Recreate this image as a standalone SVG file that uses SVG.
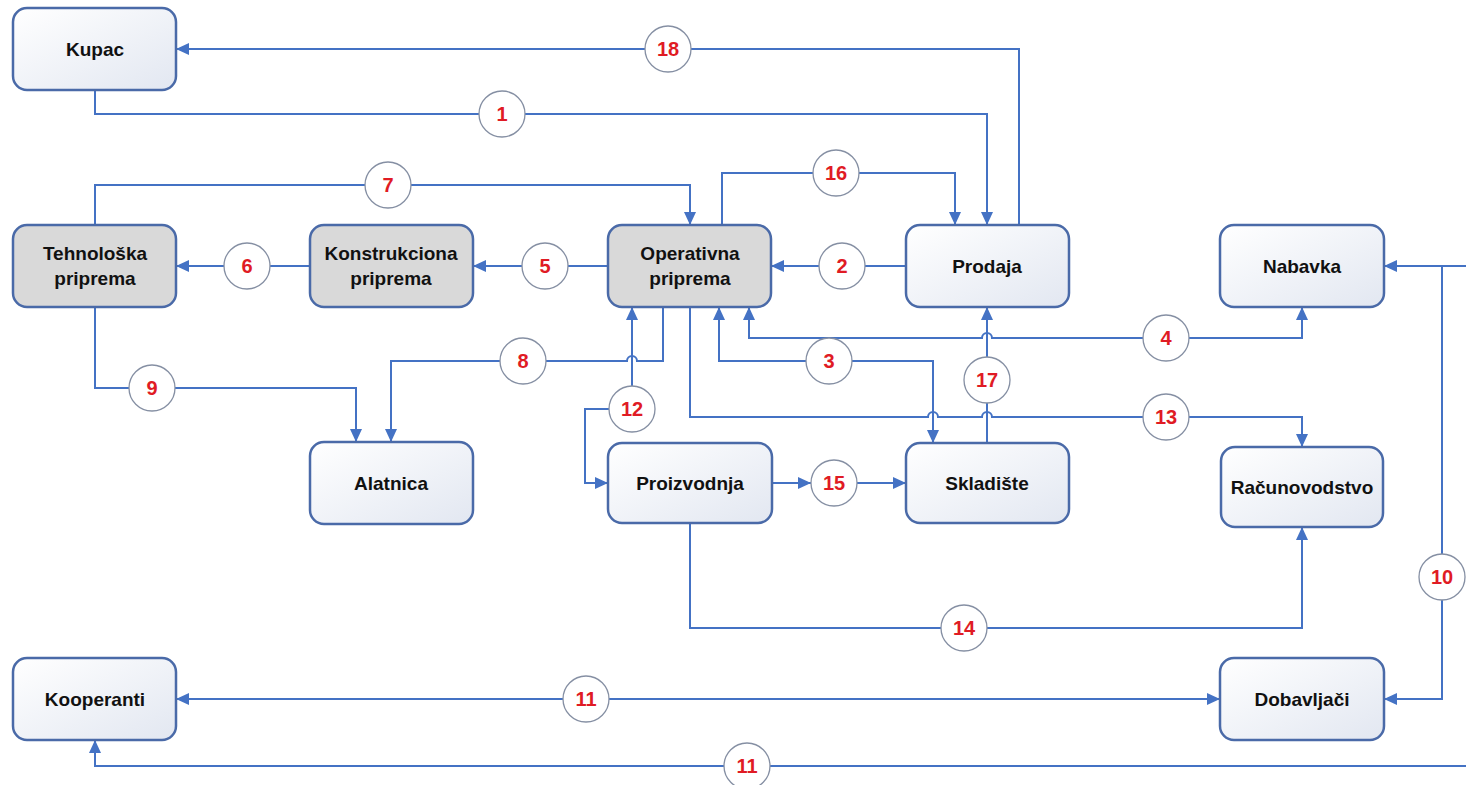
<svg xmlns="http://www.w3.org/2000/svg" width="1466" height="785" viewBox="0 0 1466 785">
<defs>
<linearGradient id="gw" x1="0" y1="0" x2="1" y2="1">
<stop offset="0" stop-color="#ffffff"/>
<stop offset="1" stop-color="#e2e7f1"/>
</linearGradient>
<marker id="ah" markerUnits="userSpaceOnUse" markerWidth="14" markerHeight="12" refX="13" refY="6" orient="auto-start-reverse">
<path d="M0,0 L13,6 L0,12 z" fill="#4472c4"/>
</marker>
<style>
.n{stroke:#4a6aa8;stroke-width:2.5;fill:url(#gw)}
.g{stroke:#4a6aa8;stroke-width:2.5;fill:#d9d9d9}
.t{font-family:"Liberation Sans",Arial,sans-serif;font-weight:bold;font-size:19px;fill:#111;text-anchor:middle}
.c path{fill:none;stroke:#4472c4;stroke-width:2}
.e{marker-end:url(#ah)}
.b{marker-start:url(#ah);marker-end:url(#ah)}
.lc{fill:#fff;stroke:#858fa3;stroke-width:1.3}
.lt{font-family:"Liberation Sans",Arial,sans-serif;font-weight:bold;font-size:20px;fill:#e01b24;text-anchor:middle}
</style>
</defs>
<rect width="1466" height="785" fill="#fff"/>
<g id="connectors" class="c">
<path class="e" d="M1019,225 V49 H176"/>
<path class="e" d="M95,90 V114 H987 V225"/>
<path class="e" d="M95,225 V185 H690 V225"/>
<path class="e" d="M722,225 V173 H955 V225"/>
<path class="e" d="M310,266 H176"/>
<path class="e" d="M608,266 H473"/>
<path class="e" d="M906,266 H771"/>
<path class="b" d="M749,307 V338 H982 a5,5 0 0 1 10,0 H1302 V307"/>
<path class="b" d="M719,307 V361 H933 V443"/>
<path class="e" d="M663,307 V361 H637 a5,5 0 0 0 -10,0 H391 V442"/>
<path class="e" d="M95,307 V388 H356 V442"/>
<path class="b" d="M632,307 V409 H585 V483 H608"/>
<path class="e" d="M690,307 V417 H928 a5,5 0 0 1 10,0 H982 a5,5 0 0 1 10,0 H1302 V447"/>
<path class="e" d="M772,483 H811"/>
<path class="e" d="M857,483 H906"/>
<path class="e" d="M690,523 V628 H1302 V527"/>
<path class="e" d="M987,443 V307"/>
<path class="e" d="M1466,266 H1384"/>
<path class="e" d="M1442,266 V699 H1384"/>
<path class="b" d="M176,699 H1220"/>
<path class="e" d="M1466,766 H95 V740"/>
</g>
<g id="labels">
<circle class="lc" cx="668" cy="49" r="23"/><text class="lt" x="668" y="56">18</text>
<circle class="lc" cx="502" cy="114" r="23"/><text class="lt" x="502" y="121">1</text>
<circle class="lc" cx="388" cy="185" r="23"/><text class="lt" x="388" y="192">7</text>
<circle class="lc" cx="836" cy="173" r="23"/><text class="lt" x="836" y="180">16</text>
<circle class="lc" cx="247" cy="266" r="23"/><text class="lt" x="247" y="273">6</text>
<circle class="lc" cx="545" cy="266" r="23"/><text class="lt" x="545" y="273">5</text>
<circle class="lc" cx="842" cy="266" r="23"/><text class="lt" x="842" y="273">2</text>
<circle class="lc" cx="1166" cy="338" r="23"/><text class="lt" x="1166" y="345">4</text>
<circle class="lc" cx="523" cy="361" r="23"/><text class="lt" x="523" y="368">8</text>
<circle class="lc" cx="829" cy="361" r="23"/><text class="lt" x="829" y="368">3</text>
<circle class="lc" cx="987" cy="380" r="23"/><text class="lt" x="987" y="387">17</text>
<circle class="lc" cx="152" cy="388" r="23"/><text class="lt" x="152" y="395">9</text>
<circle class="lc" cx="632" cy="409" r="23"/><text class="lt" x="632" y="416">12</text>
<circle class="lc" cx="1166" cy="417" r="23"/><text class="lt" x="1166" y="424">13</text>
<circle class="lc" cx="834" cy="483" r="23"/><text class="lt" x="834" y="490">15</text>
<circle class="lc" cx="964" cy="628" r="23"/><text class="lt" x="964" y="635">14</text>
<circle class="lc" cx="1442" cy="577" r="23"/><text class="lt" x="1442" y="584">10</text>
<circle class="lc" cx="586" cy="699" r="23"/><text class="lt" x="586" y="706">11</text>
<circle class="lc" cx="747" cy="766" r="23"/><text class="lt" x="747" y="773">11</text>
</g>
<g id="kupac"><rect class="n" x="13" y="8" width="163" height="82" rx="14"/><text class="t" x="95" y="56">Kupac</text></g>
<g id="tehnoloska"><rect class="g" x="13" y="225" width="163" height="82" rx="14"/><text class="t" x="95" y="260">Tehnološka</text><text class="t" x="95" y="285">priprema</text></g>
<g id="konstrukciona"><rect class="g" x="310" y="225" width="163" height="82" rx="14"/><text class="t" x="391" y="260">Konstrukciona</text><text class="t" x="391" y="285">priprema</text></g>
<g id="operativna"><rect class="g" x="608" y="225" width="163" height="82" rx="14"/><text class="t" x="690" y="260">Operativna</text><text class="t" x="690" y="285">priprema</text></g>
<g id="prodaja"><rect class="n" x="906" y="225" width="163" height="82" rx="14"/><text class="t" x="987" y="273">Prodaja</text></g>
<g id="nabavka"><rect class="n" x="1220" y="225" width="164" height="82" rx="14"/><text class="t" x="1302" y="273">Nabavka</text></g>
<g id="alatnica"><rect class="n" x="310" y="442" width="163" height="82" rx="14"/><text class="t" x="391" y="490">Alatnica</text></g>
<g id="proizvodnja"><rect class="n" x="608" y="443" width="164" height="80" rx="14"/><text class="t" x="690" y="490">Proizvodnja</text></g>
<g id="skladiste"><rect class="n" x="906" y="443" width="163" height="80" rx="14"/><text class="t" x="987" y="490">Skladište</text></g>
<g id="racunovodstvo"><rect class="n" x="1221" y="447" width="162" height="80" rx="14"/><text class="t" x="1302" y="494">Računovodstvo</text></g>
<g id="kooperanti"><rect class="n" x="13" y="658" width="163" height="82" rx="14"/><text class="t" x="95" y="706">Kooperanti</text></g>
<g id="dobavljaci"><rect class="n" x="1220" y="658" width="164" height="82" rx="14"/><text class="t" x="1302" y="706">Dobavljači</text></g>
</svg>
